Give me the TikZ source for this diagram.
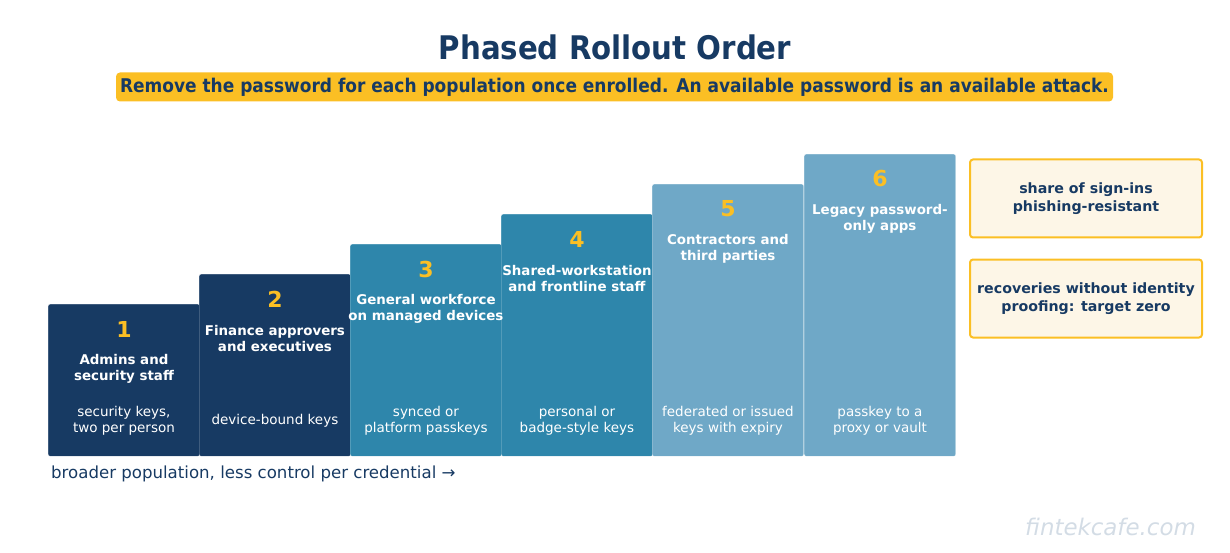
\documentclass[tikz,border=0pt]{standalone}
\usepackage{fontspec}
\setmainfont{DejaVu Sans}
\newfontfamily\condfont{DejaVu Sans Condensed}
\usetikzlibrary{positioning,calc}

\definecolor{navy}{HTML}{173A63}
\definecolor{teal}{HTML}{2E86AB}
\definecolor{sky}{HTML}{6FA8C7}
\definecolor{gold}{HTML}{FBBF24}
\definecolor{cream}{HTML}{FDF6E7}
\definecolor{wmgrey}{HTML}{D3DCE5}

\begin{document}
\begin{tikzpicture}[
    x=1pt, y=-1pt,
    stepbox/.style={draw=white, draw opacity=0.5, line width=0.4pt, rounded corners=2pt, anchor=north west, minimum width=151.5pt, inner sep=0pt},
    num/.style={text=gold, font=\bfseries\fontsize{22}{26}\selectfont},
    head/.style={text=white, align=center, font=\bfseries\fontsize{13.4}{16}\selectfont},
    cred/.style={text=white, align=center, font=\fontsize{13.5}{16}\selectfont},
    metric/.style={draw=gold, line width=2pt, fill=cream, rounded corners=3pt, minimum width=232pt, minimum height=78pt, text=navy, align=center, font=\bfseries\fontsize{14.2}{18}\selectfont}
]
\useasboundingbox (0,0) rectangle (1230,553);

% title and banner
\node[text=navy, font=\condfont\bfseries\fontsize{32.5}{38}\selectfont] (title) at (615,47) {Phased Rollout Order};
\node[fill=gold, rounded corners=4pt, minimum width=997pt, minimum height=29pt, inner sep=0pt, text=navy, font=\condfont\bfseries\fontsize{18.9}{22}\selectfont] (banner) at (614.5,87) {Remove the password for each population once enrolled. An available password is an available attack.};

% steps
\node[stepbox, fill=navy, minimum height=152pt] (s1) at (48,304) {};
\node[stepbox, fill=navy, minimum height=182pt] (s2) at (199,274) {};
\node[stepbox, fill=teal, minimum height=212pt] (s3) at (350,244) {};
\node[stepbox, fill=teal, minimum height=242pt] (s4) at (501,214) {};
\node[stepbox, fill=sky, minimum height=272pt] (s5) at (652,184) {};
\node[stepbox, fill=sky, minimum height=302pt] (s6) at (804,154) {};

\node[num] (n1) at ($(s1.north)+(0,25)$) {1};
\node[head] (h1) at ($(s1.north)+(0,65)$) {Admins and\\security staff};
\node[cred] (c1) at ($(s1.south)+(0,-35.5)$) {security keys,\\two per person};

\node[num] (n2) at ($(s2.north)+(0,25)$) {2};
\node[head] (h2) at ($(s2.north)+(0,65)$) {Finance approvers\\and executives};
\node[cred] (c2) at ($(s2.south)+(0,-35.5)$) {device-bound keys};

\node[num] (n3) at ($(s3.north)+(0,25)$) {3};
\node[head] (h3) at ($(s3.north)+(0,65)$) {General workforce\\on managed devices};
\node[cred] (c3) at ($(s3.south)+(0,-35.5)$) {synced or\\platform passkeys};

\node[num] (n4) at ($(s4.north)+(0,25)$) {4};
\node[head] (h4) at ($(s4.north)+(0,65)$) {Shared-workstation\\and frontline staff};
\node[cred] (c4) at ($(s4.south)+(0,-35.5)$) {personal or\\badge-style keys};

\node[num] (n5) at ($(s5.north)+(0,25)$) {5};
\node[head] (h5) at ($(s5.north)+(0,65)$) {Contractors and\\third parties};
\node[cred] (c5) at ($(s5.south)+(0,-35.5)$) {federated or issued\\keys with expiry};

\node[num] (n6) at ($(s6.north)+(0,25)$) {6};
\node[head] (h6) at ($(s6.north)+(0,65)$) {Legacy password-\\only apps};
\node[cred] (c6) at ($(s6.south)+(0,-35.5)$) {passkey to a\\proxy or vault};

% metrics
\node[metric] (m1) at (1086,198.5) {share of sign-ins\\phishing-resistant};
\node[metric] (m2) at (1086,298.5) {recoveries without identity\\proofing: target zero};

% caption and mark
\node[anchor=west, text=navy, inner sep=0pt, font=\fontsize{16.6}{20}\selectfont] (axis) at (51,474) {broader population, less control per credential →};
\node[anchor=east, text=wmgrey, inner sep=0pt, font=\itshape\fontsize{22.9}{27}\selectfont] (site) at (1196,527) {fintekcafe.com};

\end{tikzpicture}
\end{document}
